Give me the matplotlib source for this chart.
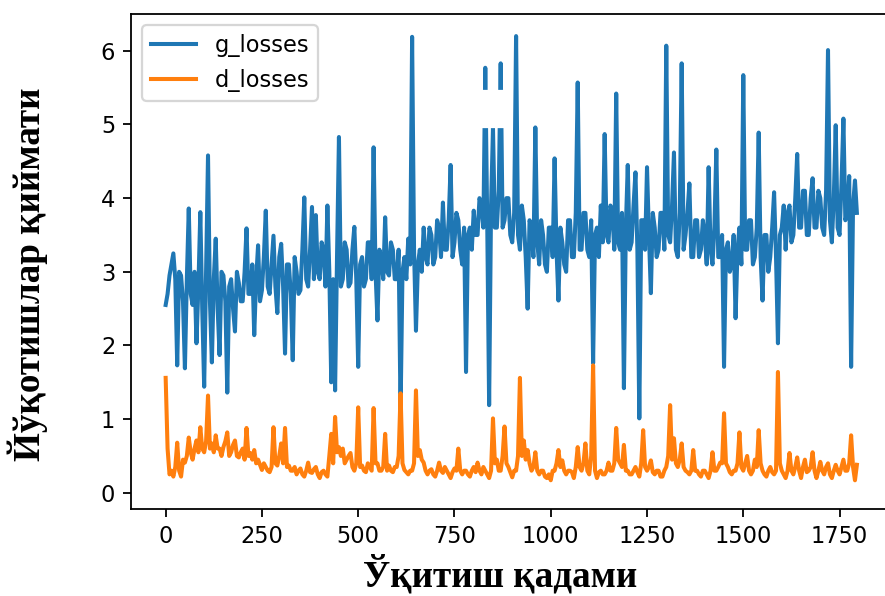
import matplotlib.pyplot as plt
from matplotlib.patches import Rectangle

# training steps (one value every 5 steps)
steps = list(range(0, 1800, 5))

g_losses = [
    2.55, 2.7, 2.95, 3.1, 3.25, 2.9, 1.73, 3.0, 2.95, 2.6, 1.69, 2.9, 3.86, 2.7, 2.55, 3.0, 2.03, 2.8, 3.81, 2.5,
    1.44, 3.0, 4.58, 2.6, 1.77, 2.9, 3.45, 2.5, 1.87, 3.0, 2.95, 2.6, 1.36, 2.8, 2.9, 2.5, 2.19, 3.0, 2.85, 2.6,
    2.6, 3.0, 3.59, 2.7, 2.7, 3.1, 2.14, 2.9, 3.36, 2.6, 2.75, 3.2, 3.83, 2.8, 2.7, 3.1, 3.49, 2.8, 2.44, 3.2,
    3.38, 2.8, 1.89, 3.1, 3.1, 2.7, 1.8, 3.2, 3.0, 2.7, 2.75, 3.3, 4.01, 2.9, 2.8, 3.3, 3.88, 2.9, 3.77, 3.0,
    2.9, 3.4, 3.3, 2.8, 3.9, 3.0, 1.5, 2.9, 1.39, 3.2, 4.83, 2.8, 2.9, 3.4, 3.3, 2.8, 2.85, 3.3, 3.61, 2.9,
    1.71, 3.1, 3.2, 2.8, 2.9, 3.4, 3.4, 2.9, 4.69, 3.0, 2.34, 3.3, 3.2, 2.9, 3.74, 3.0, 2.95, 3.4, 3.3, 2.9,
    2.9, 3.3, 1.1, 3.0, 3.2, 2.9, 3.45, 3.1, 6.19, 3.3, 2.2, 3.1, 3.3, 3.0, 3.6, 3.2, 3.1, 3.6, 3.5, 3.1,
    3.2, 3.7, 3.6, 3.2, 3.94, 3.3, 3.3, 3.7, 4.45, 3.2, 3.4, 3.8, 3.7, 3.3, 3.1, 3.6, 1.64, 3.5, 3.6, 3.3,
    3.83, 3.5, 3.5, 4.0, 3.9, 3.6, 5.77, 3.7, 1.19, 3.9, 4.95, 3.6, 3.6, 4.1, 5.83, 3.6, 3.7, 4.0, 4.0, 3.5,
    3.4, 3.8, 6.2, 3.5, 3.3, 3.9, 3.7, 3.2, 2.5, 3.7, 3.6, 3.2, 4.96, 3.4, 3.1, 3.7, 3.5, 3.1, 3.0, 3.6,
    3.6, 3.2, 4.54, 3.3, 2.61, 3.6, 3.4, 3.1, 3.0, 3.7, 3.7, 3.2, 3.2, 3.8, 5.57, 3.3, 3.3, 3.8, 3.8, 3.3,
    3.2, 3.7, 1.76, 3.5, 3.6, 3.2, 3.9, 3.4, 4.87, 3.5, 3.4, 3.9, 3.8, 3.3, 5.42, 3.4, 3.3, 3.8, 1.42, 3.6,
    4.45, 3.3, 3.4, 3.9, 4.35, 3.3, 1.01, 3.7, 3.7, 3.3, 4.42, 3.5, 2.71, 3.8, 3.6, 3.2, 3.3, 3.8, 3.8, 3.3,
    6.07, 3.5, 3.4, 3.9, 4.62, 3.3, 3.2, 3.8, 5.83, 3.3, 3.5, 3.8, 4.2, 3.2, 3.2, 3.7, 3.7, 3.2, 3.3, 3.7,
    3.5, 3.1, 4.42, 3.3, 3.1, 3.6, 4.66, 3.2, 3.2, 3.5, 1.71, 3.3, 3.4, 3.0, 3.1, 3.5, 2.37, 3.3, 3.6, 3.1,
    5.67, 3.3, 3.3, 3.7, 3.7, 3.1, 3.2, 3.6, 4.89, 3.2, 2.61, 3.5, 3.5, 3.0, 3.2, 3.6, 4.08, 3.2, 2.03, 3.5,
    3.6, 3.9, 3.3, 3.8, 3.9, 3.4, 3.5, 4.0, 4.6, 3.6, 3.6, 4.1, 4.1, 3.5, 3.5, 4.0, 4.27, 3.6, 3.6, 4.1,
    4.0, 3.6, 3.5, 4.1, 6.01, 3.7, 3.4, 4.0, 4.99, 3.6, 3.5, 4.2, 5.08, 3.7, 3.8, 4.3, 1.71, 3.9, 4.24, 3.8,
]

d_losses = [
    1.56, 0.6, 0.25, 0.3, 0.22, 0.35, 0.68, 0.3, 0.22, 0.45, 0.41, 0.5, 0.75, 0.55, 0.45, 0.6, 0.71, 0.55, 0.89, 0.6,
    0.55, 0.7, 1.32, 0.6, 0.67, 0.55, 0.78, 0.6, 0.6, 0.5, 0.62, 0.7, 0.82, 0.5, 0.55, 0.65, 0.71, 0.5, 0.48, 0.55,
    0.6, 0.45, 0.88, 0.5, 0.54, 0.45, 0.58, 0.4, 0.45, 0.38, 0.31, 0.4, 0.35, 0.3, 0.28, 0.35, 0.89, 0.4, 0.37, 0.5,
    0.67, 0.4, 0.88, 0.35, 0.37, 0.3, 0.3, 0.35, 0.25, 0.3, 0.33, 0.25, 0.22, 0.3, 0.41, 0.28, 0.27, 0.32, 0.35, 0.25,
    0.2, 0.28, 0.3, 0.25, 0.22, 0.5, 0.8, 0.4, 1.03, 0.55, 0.62, 0.5, 0.6, 0.4, 0.45, 0.5, 0.54, 0.35, 0.3, 0.4,
    1.16, 0.35, 0.37, 0.3, 0.28, 0.4, 0.35, 0.3, 1.15, 0.4, 0.4, 0.3, 0.3, 0.35, 0.8, 0.3, 0.37, 0.3, 0.28, 0.35,
    0.35, 0.5, 1.35, 0.4, 0.31, 0.28, 0.25, 0.3, 0.3, 0.4, 1.39, 0.5, 0.58, 0.45, 0.41, 0.3, 0.25, 0.3, 0.32, 0.25,
    0.22, 0.3, 0.41, 0.3, 0.27, 0.35, 0.3, 0.25, 0.2, 0.28, 0.33, 0.3, 0.6, 0.3, 0.25, 0.3, 0.3, 0.25, 0.22, 0.3,
    0.35, 0.28, 0.41, 0.3, 0.25, 0.35, 0.3, 0.25, 0.2, 0.3, 1.01, 0.4, 0.45, 0.3, 0.3, 0.5, 0.9, 0.4, 0.35, 0.28,
    0.21, 0.3, 0.3, 0.5, 1.56, 0.5, 0.71, 0.45, 0.58, 0.4, 0.3, 0.35, 0.55, 0.3, 0.25, 0.3, 0.3, 0.22, 0.2, 0.25,
    0.17, 0.3, 0.3, 0.4, 0.58, 0.35, 0.44, 0.3, 0.25, 0.3, 0.3, 0.28, 0.2, 0.35, 0.62, 0.35, 0.3, 0.4, 0.67, 0.3,
    0.25, 0.5, 1.73, 0.3, 0.2, 0.28, 0.3, 0.25, 0.25, 0.3, 0.41, 0.3, 0.3, 0.4, 0.88, 0.45, 0.4, 0.35, 0.65, 0.3,
    0.3, 0.25, 0.25, 0.3, 0.35, 0.28, 0.22, 0.4, 0.85, 0.35, 0.3, 0.35, 0.44, 0.28, 0.25, 0.3, 0.3, 0.22, 0.22, 0.3,
    0.35, 0.5, 1.19, 0.45, 0.74, 0.4, 0.35, 0.45, 0.67, 0.35, 0.3, 0.28, 0.25, 0.3, 0.58, 0.3, 0.3, 0.25, 0.22, 0.3,
    0.3, 0.25, 0.2, 0.3, 0.55, 0.3, 0.3, 0.35, 0.41, 0.4, 1.08, 0.4, 0.35, 0.28, 0.25, 0.3, 0.3, 0.4, 0.82, 0.35,
    0.3, 0.4, 0.5, 0.3, 0.25, 0.3, 0.45, 0.35, 0.85, 0.4, 0.3, 0.25, 0.22, 0.3, 0.35, 0.28, 0.25, 0.3, 1.64, 0.4,
    0.3, 0.25, 0.2, 0.3, 0.54, 0.3, 0.25, 0.35, 0.48, 0.3, 0.2, 0.35, 0.45, 0.28, 0.3, 0.35, 0.55, 0.3, 0.2, 0.3,
    0.42, 0.3, 0.25, 0.35, 0.4, 0.25, 0.2, 0.3, 0.38, 0.3, 0.25, 0.35, 0.45, 0.3, 0.3, 0.4, 0.78, 0.35, 0.17, 0.38,
]

xlabel = 'Ўқитиш қадами'
ylabel = 'Йўқотишлар қиймати'

plt.rcParams['savefig.bbox'] = 'standard'

# notebook style figure, scaled up ~2.25x; axes runs to the right edge,
# where the source picture was cropped (no right spine visible)
fig = plt.figure(figsize=(885 / 162, 596 / 162), dpi=162)
ax = fig.add_axes([131 / 885, 1 - 509 / 596, 754 / 885, 495 / 596])

ax.plot(steps, g_losses, lw=1.8, label='g_losses')
ax.plot(steps, d_losses, lw=1.8, label='d_losses')
ax.set_xlim(-90, 1868)
ax.set_ylim(-0.22, 6.5)
ax.set_xticks(range(0, 2000, 250))
ax.spines['right'].set_visible(False)
ax.legend(loc='upper left')

# white patch erasing part of the spikes in the source picture
ax.add_patch(Rectangle((815, 4.97), 70, 0.48, color='white', zorder=3))

label_font = dict(family='Liberation Serif', weight='bold', size=16.5)
ax.set_xlabel(xlabel, **label_font)
ax.set_ylabel(ylabel, **label_font)
ax.xaxis.set_label_coords(0.49, -0.093)
ax.yaxis.set_label_coords(-0.11, 0.475)

fig.savefig('out.png', dpi=162)
